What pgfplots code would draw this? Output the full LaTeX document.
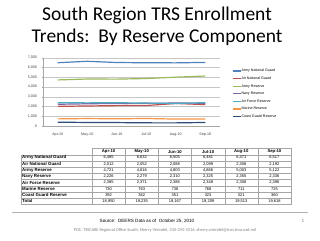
\documentclass[border=0pt]{standalone}
\usepackage{pgfplots}
\pgfplotsset{compat=1.18}
\usepackage{fontspec}
\setmainfont{Liberation Sans}
\newfontfamily\calfont{Carlito}
\definecolor{c1}{HTML}{4F81BD}
\definecolor{c2}{HTML}{C0504D}
\definecolor{c3}{HTML}{9BBB59}
\definecolor{c4}{HTML}{8064A2}
\definecolor{c5}{HTML}{4BACC6}
\definecolor{c6}{HTML}{F79646}
\definecolor{c7}{HTML}{2C4D75}
\definecolor{tblgray}{HTML}{A6A6A6}
\newcommand\colx[1]{\fpeval{92+33.17*(#1)+16.58}}
\newcommand\trow[8]{%
  \pgfmathsetmacro\yy{240-(148.5+6.2*#1+3.1)}
  \node[anchor=west,inner sep=0,font=\bfseries\fontsize{4.4}{5}\selectfont] at (22,\yy) {#2};
  \node[inner sep=0,font=\fontsize{4}{5}\selectfont] at (108.6,\yy) {#3};
  \node[inner sep=0,font=\fontsize{4}{5}\selectfont] at (141.8,\yy) {#4};
  \node[inner sep=0,font=\fontsize{4}{5}\selectfont] at (174.9,\yy) {#5};
  \node[inner sep=0,font=\fontsize{4}{5}\selectfont] at (208.1,\yy) {#6};
  \node[inner sep=0,font=\fontsize{4}{5}\selectfont] at (241.3,\yy) {#7};
  \node[inner sep=0,font=\fontsize{4}{5}\selectfont] at (274.4,\yy) {#8};
}
\begin{document}
\begin{tikzpicture}[x=1pt,y=1pt]
\fill[white] (0,0) rectangle (320,240);
% Title
\node[font=\calfont\fontsize{19.5}{22}\selectfont,inner sep=0] at (157,240-15) {South Region TRS Enrollment};
\node[font=\calfont\fontsize{19.5}{22}\selectfont,inner sep=0] at (157,240-37) {Trends:\ \ By Reserve Component};
% Chart
\begin{axis}[
  at={(43pt,114pt)}, anchor=south west,
  scale only axis, width=177pt, height=68.3pt,
  xmin=-0.5, xmax=5.5, ymin=0, ymax=7000,
  xtick={0,...,5},
  xticklabels={Apr-10,May-10,Jun-10,Jul-10,Aug-10,Sep-10},
  ytick={0,1000,...,7000},
  ymajorgrids, grid style={gray!45, line width=0.4pt},
  axis x line*=bottom, axis y line*=left,
  axis line style={gray!70, line width=0.4pt},
  tick style={gray!70, line width=0.4pt},
  major tick length=1.5pt,
  xtick pos=bottom, ytick pos=left,
  tick align=outside,
  /pgf/number format/1000 sep={,},
  /pgf/number format/assume math mode=true,
  tick label style={font=\fontsize{3.6}{4}\selectfont, text=black!75},
  yticklabel style={xshift=-1pt},
  xticklabel style={yshift=-1.5pt},
  every axis plot/.append style={line width=1.2pt, mark=none},
  legend style={at={(1.05,0.87)}, anchor=north west, draw=none, fill=none,
    font=\fontsize{3.6}{4}\selectfont, row sep=3.2pt,
    nodes={inner sep=0.4pt, text height=2.8pt, text depth=0.8pt}},
  legend cell align=left,
  legend image code/.code={\draw[#1, line width=1.1pt] (0pt,0pt) -- (8pt,0pt);},
]
\addplot[c1] coordinates {(0,6485) (1,6632) (2,6505) (3,6481) (4,6471) (5,6517)};
\addlegendentry{Army National Guard}
\addplot[c2] coordinates {(0,2012) (1,2052) (2,2088) (3,2099) (4,2308) (5,2192)};
\addlegendentry{Air National Guard}
\addplot[c3] coordinates {(0,4721) (1,4816) (2,4803) (3,4866) (4,5003) (5,5122)};
\addlegendentry{Army Reserve}
\addplot[c4] coordinates {(0,2226) (1,2279) (2,2310) (3,2325) (4,2355) (5,2336)};
\addlegendentry{Navy Reserve}
\addplot[c5] coordinates {(0,2385) (1,2371) (2,2386) (3,2348) (4,2308) (5,2396)};
\addlegendentry{Air Force Reserve}
\addplot[c6] coordinates {(0,730) (1,763) (2,738) (3,768) (4,711) (5,725)};
\addlegendentry{Marine Reserve}
\addplot[c7] coordinates {(0,392) (1,362) (2,351) (3,323) (4,321) (5,360)};
\addlegendentry{Coast Guard Reserve}
\end{axis}
% Table grid
\begin{scope}[tblgray, line width=0.35pt]
\draw (92,240-148.5) rectangle (291,240-154.7);
\foreach \i in {1,...,5} \draw ({92+33.17*\i},240-148.5) -- ({92+33.17*\i},240-204.3);
\draw (21,240-154.7) rectangle (291,240-204.3);
\draw (92,240-154.7) -- (92,240-204.3);
\foreach \r in {2,...,8} \draw (21,{240-(148.5+6.2*\r)}) -- (291,{240-(148.5+6.2*\r)});
\end{scope}
% Header
\foreach \m [count=\k from 0] in {Apr-10,May-10,Jun-10,Jul-10,Aug-10,Sep-10}
  \node[inner sep=0,font=\bfseries\fontsize{4.2}{5}\selectfont] at ({92+33.17*\k+16.58},{240-151.6}) {\m};
\trow{1}{Army National Guard}{6,485}{6,632}{6,505}{6,481}{6,471}{6,517}
\trow{2}{Air National Guard}{2,012}{2,052}{2,088}{2,099}{2,308}{2,192}
\trow{3}{Army Reserve}{4,721}{4,816}{4,803}{4,866}{5,003}{5,122}
\trow{4}{Navy Reserve}{2,226}{2,279}{2,310}{2,325}{2,355}{2,336}
\trow{5}{Air Force Reserve}{2,385}{2,371}{2,386}{2,348}{2,308}{2,396}
\trow{6}{Marine Reserve}{730}{763}{738}{768}{711}{725}
\trow{7}{Coast Guard Reserve}{392}{362}{351}{323}{321}{360}
\trow{8}{Total}{18,950}{19,235}{19,167}{19,209}{19,513}{19,618}
% Footer
\draw[gray!60, line width=0.6pt] (12,240-212) -- (308,240-212);
\node[inner sep=0,font=\fontsize{4.6}{5}\selectfont] at (147,240-221) {Source:\ \ DEERS Data as of\ \ October 25, 2010};
\node[inner sep=0,font=\calfont\fontsize{4.4}{5}\selectfont,text=gray] at (165,240-230) {POC: TRICARE Regional Office South, Sherry Vreindel, 210-292-3316, sherry.vreindel@tros.tma.osd.mil};
\node[inner sep=0,font=\calfont\fontsize{5}{6}\selectfont,text=gray] at (303,240-221) {1};
\end{tikzpicture}
\end{document}
